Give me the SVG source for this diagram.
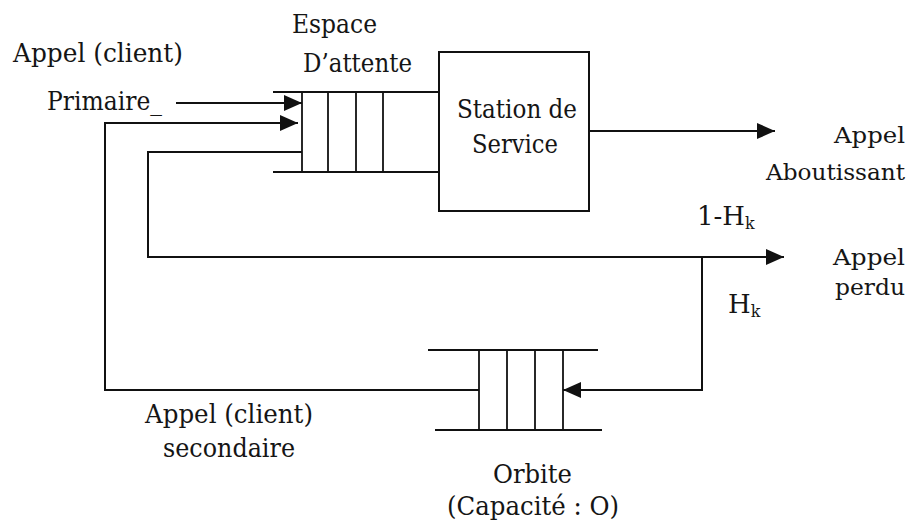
<svg xmlns="http://www.w3.org/2000/svg" width="912" height="522" viewBox="0 0 912 522">
  <style>
    .ln { fill: none; stroke: #111; stroke-width: 2; }
    .cell { fill: none; stroke: #111; stroke-width: 1.8; }
    .t { font-family: "DejaVu Serif", "Liberation Serif", "Noto Serif", serif; font-size: 26px; fill: #151515; }
    .r { text-anchor: end; font-size: 23px; }
    .sub { font-size: 16px; }
  </style>
  <defs>
    <marker id="arrow" markerUnits="userSpaceOnUse" markerWidth="20" markerHeight="16" refX="18" refY="8" orient="auto">
      <path d="M0,0 L18,8 L0,16 Z" fill="#111"/>
    </marker>
  </defs>
  <rect width="912" height="522" fill="#fff"/>

  <!-- waiting queue -->
  <g id="file-attente">
    <line class="ln" x1="273" y1="92" x2="439" y2="92"/>
    <line class="ln" x1="273" y1="172" x2="439" y2="172"/>
    <line class="cell" x1="302" y1="92" x2="302" y2="172"/>
    <line class="cell" x1="328" y1="92" x2="328" y2="172"/>
    <line class="cell" x1="356" y1="92" x2="356" y2="172"/>
    <line class="cell" x1="383" y1="92" x2="383" y2="172"/>
    <text class="t" x="292" y="33" textLength="85" lengthAdjust="spacingAndGlyphs">Espace</text>
    <text class="t" x="303" y="72" textLength="109" lengthAdjust="spacingAndGlyphs">D’attente</text>
  </g>

  <!-- service station -->
  <g id="station">
    <rect class="ln" x="439" y="52" width="150" height="159"/>
    <text class="t" x="457" y="118" textLength="120" lengthAdjust="spacingAndGlyphs">Station de</text>
    <text class="t" x="472" y="153" textLength="86" lengthAdjust="spacingAndGlyphs">Service</text>
  </g>

  <!-- orbit queue -->
  <g id="orbite">
    <line class="ln" x1="428" y1="350" x2="598" y2="350"/>
    <line class="ln" x1="435" y1="430" x2="602" y2="430"/>
    <line class="cell" x1="479" y1="350" x2="479" y2="430"/>
    <line class="cell" x1="507" y1="350" x2="507" y2="430"/>
    <line class="cell" x1="535" y1="350" x2="535" y2="430"/>
    <line class="cell" x1="563" y1="350" x2="563" y2="430"/>
    <text class="t" x="493" y="483" textLength="79" lengthAdjust="spacingAndGlyphs">Orbite</text>
    <text class="t" x="447" y="515" textLength="172" lengthAdjust="spacingAndGlyphs">(Capacité : O)</text>
  </g>

  <!-- labels -->
  <g id="primaire">
    <text class="t" x="13" y="62" textLength="170" lengthAdjust="spacingAndGlyphs">Appel (client)</text>
    <text class="t" x="47" y="110" textLength="115" lengthAdjust="spacingAndGlyphs">Primaire_</text>
  </g>
  <g id="secondaire">
    <text class="t" x="145" y="423" textLength="168" lengthAdjust="spacingAndGlyphs">Appel (client)</text>
    <text class="t" x="163" y="457" textLength="132" lengthAdjust="spacingAndGlyphs">secondaire</text>
  </g>
  <g id="aboutissant">
    <text class="t r" x="905" y="143" textLength="71" lengthAdjust="spacingAndGlyphs">Appel</text>
    <text class="t r" x="905" y="180" textLength="139" lengthAdjust="spacingAndGlyphs">Aboutissant</text>
  </g>
  <g id="perdu">
    <text class="t r" x="905" y="265" textLength="72" lengthAdjust="spacingAndGlyphs">Appel</text>
    <text class="t r" x="905" y="295" textLength="70" lengthAdjust="spacingAndGlyphs">perdu</text>
  </g>
  <g id="proba">
    <text class="t" x="697" y="225">1-H<tspan class="sub" dy="4">k</tspan></text>
    <text class="t" x="728" y="313">H<tspan class="sub" dy="4">k</tspan></text>
  </g>

  <!-- connectors -->
  <g id="connecteurs">
    <line class="ln" x1="176" y1="103" x2="302" y2="103" marker-end="url(#arrow)"/>
    <polyline class="ln" points="479,390 105,390 105,123 298,123" marker-end="url(#arrow)"/>
    <polyline class="ln" points="302,152 148,152 148,257 784,257" marker-end="url(#arrow)"/>
    <polyline class="ln" points="702,257 702,390 563,390" marker-end="url(#arrow)"/>
    <line class="ln" x1="589" y1="131" x2="775" y2="131" marker-end="url(#arrow)"/>
  </g>
</svg>
